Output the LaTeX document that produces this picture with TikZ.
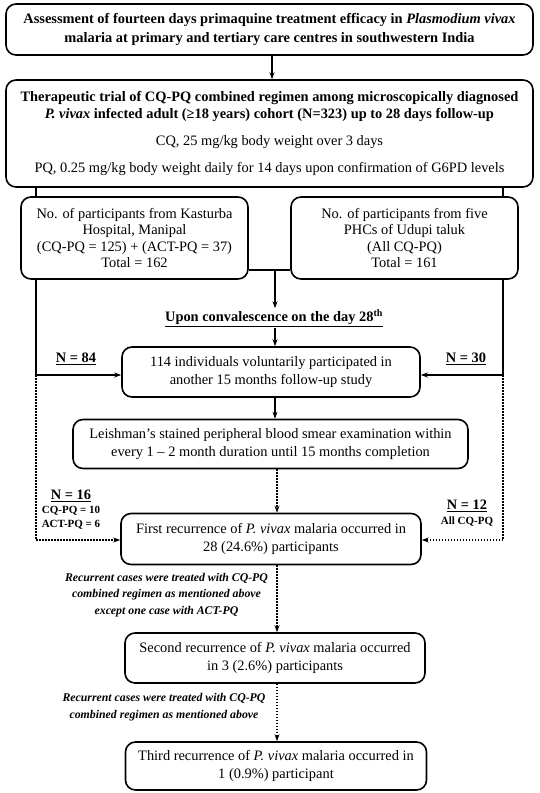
\documentclass[tikz,border=0pt]{standalone}
\usepackage{fontspec}
\setmainfont{Liberation Serif}
\usetikzlibrary{arrows.meta}
\begin{document}
\begin{tikzpicture}[x=1pt,y=-1pt,
  box/.style={draw,line width=1.6pt,rounded corners=10pt,fill=white,align=center,inner sep=0pt,font=\fontsize{14.4}{18.5}\selectfont},
  sidebox/.style={box,font=\fontsize{14.4}{16.3}\selectfont},
  ln/.style={line width=1.1pt},
  arr/.style={line width=1.1pt,-{Stealth[length=7pt,width=5pt]}},
  dl/.style={line width=1.5pt,dash pattern=on 1.5pt off 1.5pt},
  darr/.style={dl,-{Stealth[length=7pt,width=5pt]}},
  lab/.style={font=\bfseries\fontsize{14.4}{16}\selectfont,inner sep=1pt,align=center},
  small/.style={lab,font=\bfseries\fontsize{11}{14}\selectfont},
  ann/.style={font=\bfseries\itshape\fontsize{11.8}{16.5}\selectfont,inner sep=0pt,align=center}]
\useasboundingbox (0,0) rectangle (539,793);

% boxes
\node[box,minimum width=527pt,minimum height=51pt] (b1) at (269.5,29.5)
  {\textbf{Assessment of fourteen days primaquine treatment efficacy in \textit{Plasmodium vivax}}\\
   \textbf{malaria at primary and tertiary care centres in southwestern India}};
\node[box,font=\fontsize{14.4}{17.5}\selectfont,minimum width=527pt,minimum height=107pt] (b2) at (269.5,133.5)
  {\textbf{Therapeutic trial of CQ-PQ combined regimen among microscopically diagnosed}\\
   \textbf{\textit{P. vivax} infected adult (≥18 years) cohort (N=323) up to 28 days follow-up}\\[9pt]
   CQ, 25 mg/kg body weight over 3 days\\[10pt]
   PQ, 0.25 mg/kg body weight daily for 14 days upon confirmation of G6PD levels};
\node[sidebox,minimum width=227pt,minimum height=82pt] (sl) at (134.5,238)
  {No. of participants from Kasturba\\ Hospital, Manipal\\ (CQ-PQ = 125) + (ACT-PQ = 37)\\ Total = 162};
\node[sidebox,minimum width=227pt,minimum height=82pt] (sr) at (404.5,238)
  {No. of participants from five\\ PHCs of Udupi taluk\\ (All CQ-PQ)\\ Total = 161};
\node[lab] (conv) at (274,318) {\underline{Upon convalescence on the day 28\textsuperscript{th}}};
\node[box,minimum width=298pt,minimum height=50pt] (b3) at (271,372)
  {114 individuals voluntarily participated in\\ another 15 months follow-up study};
\node[box,minimum width=395pt,minimum height=49pt] (b4) at (270.5,444)
  {Leishman’s stained peripheral blood smear examination within\\ every 1 – 2 month duration until 15 months completion};
\node[box,minimum width=300pt,minimum height=51pt] (b5) at (271,539)
  {First recurrence of \textit{P. vivax} malaria occurred in\\ 28 (24.6\%) participants};
\node[box,minimum width=300pt,minimum height=50pt] (b6) at (275,658)
  {Second recurrence of \textit{P. vivax} malaria occurred\\ in 3 (2.6\%) participants};
\node[box,minimum width=301pt,minimum height=48pt] (b7) at (276,766)
  {Third recurrence of \textit{P. vivax} malaria occurred in\\ 1 (0.9\%) participant};

% labels
\node[lab] (n84) at (76,359) {\underline{N = 84}};
\node[lab] (n30) at (466,359) {\underline{N = 30}};
\node[lab] (n16) at (71,496) {\underline{N = 16}};
\node[small] (n16b) at (71,518) {CQ-PQ = 10\\ ACT-PQ = 6};
\node[lab] (n12) at (467,506) {\underline{N = 12}};
\node[small] (n12b) at (467,522) {All CQ-PQ};
\node[ann] (a1) at (166.5,595) {Recurrent cases were treated with CQ-PQ\\ combined regimen as mentioned above\\ except one case with ACT-PQ};
\node[ann] (a2) at (164,707) {Recurrent cases were treated with CQ-PQ\\ combined regimen as mentioned above};

% coordinates
\coordinate (cx) at (272,0);
\coordinate (cy) at (275,0);
\coordinate (cz) at (277,0);
\coordinate (cl) at (36,375);
\coordinate (cr) at (503,375);
\coordinate (dl1) at (36,540);
\coordinate (dr1) at (503,540);
\coordinate (m) at (275,270);

% connectors
\draw[arr] (b1.south -| cx) -- (b2.north -| cx);
\draw[ln] (b2.south -| cl) -- (sl.north -| cl);
\draw[ln] (b2.south -| cr) -- (sr.north -| cr);
\draw[ln] (sl.east |- m) -- (sr.west |- m);
\draw[arr] (m) -- (conv.north -| m);
\draw[arr] (conv.south -| cy) -- (b3.north -| cy);
\draw[arr] (sl.south -| cl) -- (cl) -- (b3.west |- cl);
\draw[arr] (sr.south -| cr) -- (cr) -- (b3.east |- cr);
\draw[arr] (b3.south -| cy) -- (b4.north -| cy);
\draw[darr] (cl) -- (dl1) -- (b5.west |- dl1);
\draw[darr] (cr) -- (dr1) -- (b5.east |- dr1);
\draw[darr] (b4.south -| cz) -- (b5.north -| cz);
\draw[darr] (b5.south -| cz) -- (b6.north -| cz);
\draw[darr] (b6.south -| cz) -- (b7.north -| cz);
\end{tikzpicture}
\end{document}
